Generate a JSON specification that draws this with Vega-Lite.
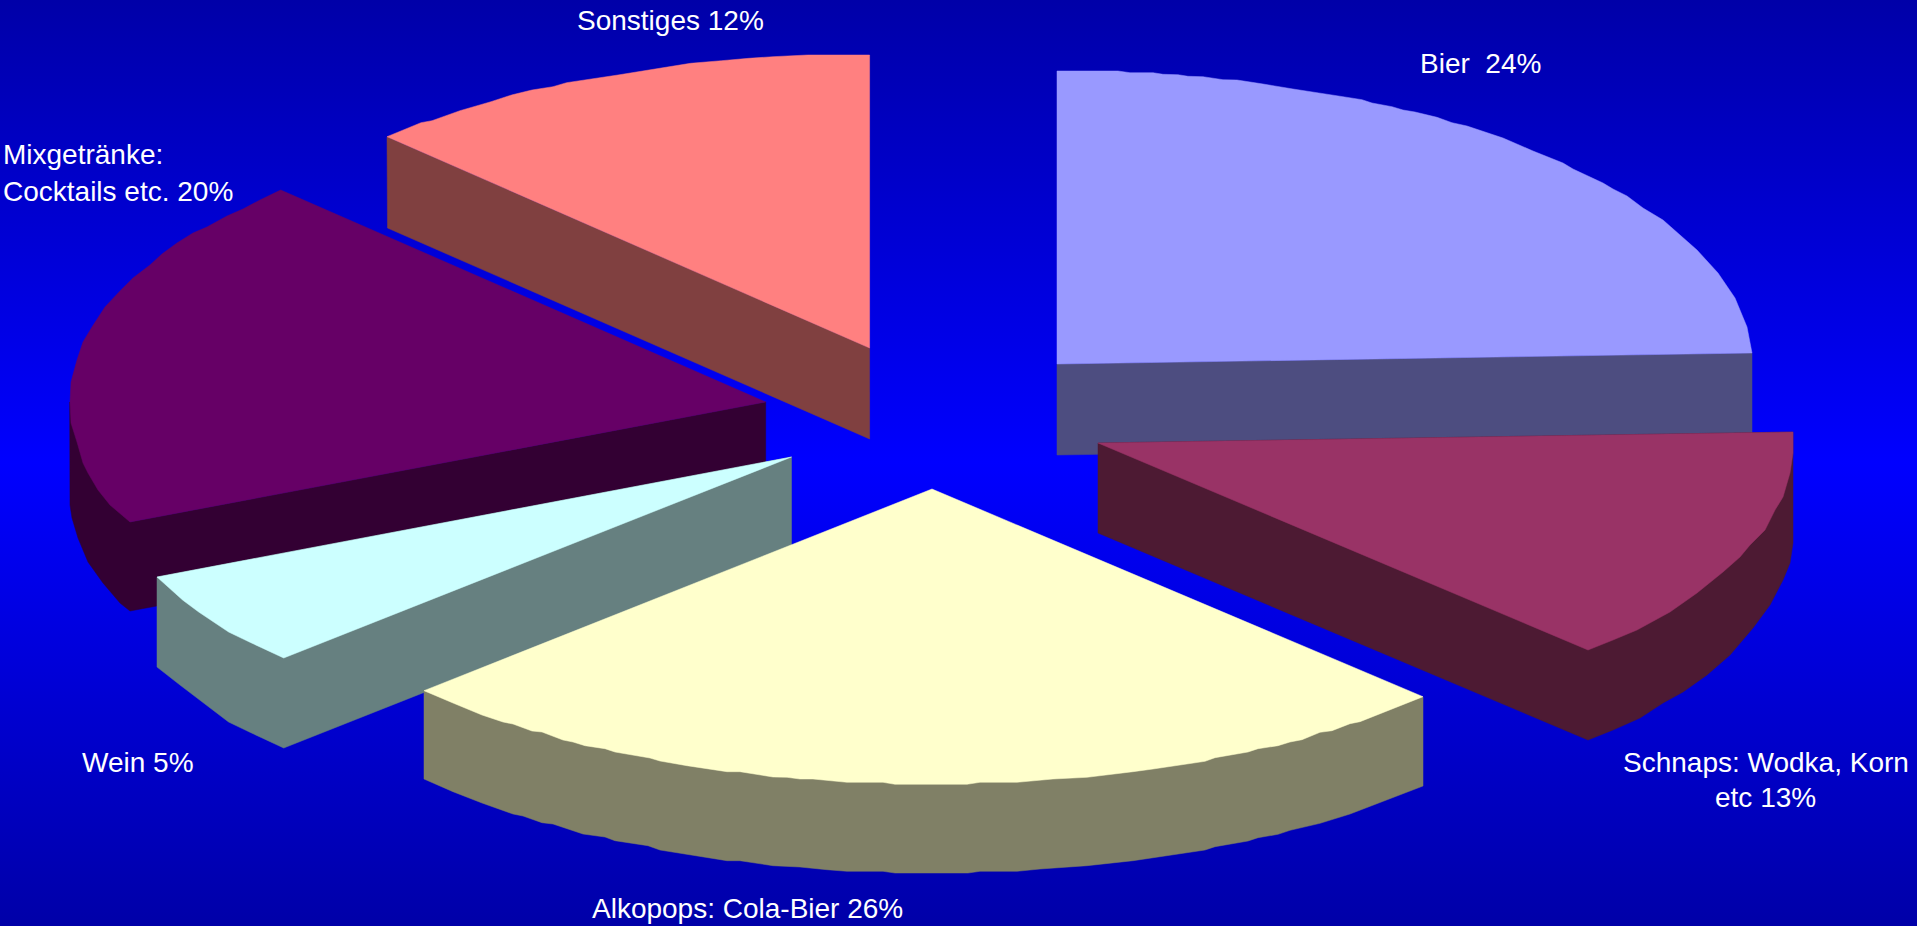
{"$schema":"https://vega.github.io/schema/vega-lite/v6.json","width":1917,"height":926,"autosize":{"type":"fit","contains":"padding"},"padding":0,"background":"#0000ff","view":{"stroke":null},
"datasets":{"frame":[{"x0":0,"x1":1917,"y0":0,"y1":926}],
"labels":[{"t":"Sonstiges 12%","x":577,"y":30},{"t":"Bier \u00a024%","x":1420,"y":73},{"t":"Schnaps: Wodka, Korn","x":1623,"y":772},{"t":"etc 13%","x":1715,"y":807},{"t":"Alkopops: Cola-Bier 26%","x":592,"y":918},{"t":"Wein 5%","x":82,"y":772},{"t":"Mixgetränke:","x":3,"y":164},{"t":"Cocktails etc. 20%","x":3,"y":201}],
"outline":[
{"p":"a Bier side","i":1,"x":1057,"y":364},{"p":"a Bier side","i":2,"x":1752,"y":353},{"p":"a Bier side","i":3,"x":1752,"y":444},{"p":"a Bier side","i":4,"x":1057,"y":455},
{"p":"b Bier top","i":1,"x":1057,"y":71},{"p":"b Bier top","i":2,"x":1118,"y":71},{"p":"b Bier top","i":3,"x":1130,"y":72.7},{"p":"b Bier top","i":4,"x":1153,"y":72.7},{"p":"b Bier top","i":5,"x":1163,"y":74.3},{"p":"b Bier top","i":6,"x":1178,"y":74.7},{"p":"b Bier top","i":7,"x":1188,"y":76.3},{"p":"b Bier top","i":8,"x":1203,"y":76.7},{"p":"b Bier top","i":9,"x":1223,"y":79.7},{"p":"b Bier top","i":10,"x":1237,"y":80},{"p":"b Bier top","i":11,"x":1263,"y":84},{"p":"b Bier top","i":12,"x":1293,"y":89},{"p":"b Bier top","i":13,"x":1317,"y":92.7},{"p":"b Bier top","i":14,"x":1343,"y":96.7},{"p":"b Bier top","i":15,"x":1362,"y":99.7},{"p":"b Bier top","i":16,"x":1372,"y":103},{"p":"b Bier top","i":17,"x":1392,"y":106.7},{"p":"b Bier top","i":18,"x":1403,"y":110},{"p":"b Bier top","i":19,"x":1415,"y":112},{"p":"b Bier top","i":20,"x":1437,"y":117.3},{"p":"b Bier top","i":21,"x":1452,"y":122.7},{"p":"b Bier top","i":22,"x":1467,"y":126},{"p":"b Bier top","i":23,"x":1503,"y":138},{"p":"b Bier top","i":24,"x":1533,"y":151},{"p":"b Bier top","i":25,"x":1563,"y":163},{"p":"b Bier top","i":26,"x":1573,"y":169},{"p":"b Bier top","i":27,"x":1603,"y":183},{"p":"b Bier top","i":28,"x":1613,"y":189},{"p":"b Bier top","i":29,"x":1627,"y":196},{"p":"b Bier top","i":30,"x":1643,"y":208},{"p":"b Bier top","i":31,"x":1663,"y":220},{"p":"b Bier top","i":32,"x":1680,"y":235},{"p":"b Bier top","i":33,"x":1697,"y":250},{"p":"b Bier top","i":34,"x":1718,"y":273},{"p":"b Bier top","i":35,"x":1735,"y":298},{"p":"b Bier top","i":36,"x":1747,"y":327},{"p":"b Bier top","i":37,"x":1752,"y":353},{"p":"b Bier top","i":38,"x":1057,"y":364},
{"p":"c Sonstiges side","i":1,"x":387,"y":137},{"p":"c Sonstiges side","i":2,"x":387.5,"y":228},{"p":"c Sonstiges side","i":3,"x":869.6,"y":439},{"p":"c Sonstiges side","i":4,"x":869.6,"y":348},
{"p":"d Sonstiges top","i":1,"x":387,"y":136.7},{"p":"d Sonstiges top","i":2,"x":421,"y":122.7},{"p":"d Sonstiges top","i":3,"x":432,"y":120.7},{"p":"d Sonstiges top","i":4,"x":460,"y":110.7},{"p":"d Sonstiges top","i":5,"x":491,"y":101.7},{"p":"d Sonstiges top","i":6,"x":511.5,"y":95},{"p":"d Sonstiges top","i":7,"x":532,"y":90},{"p":"d Sonstiges top","i":8,"x":553,"y":86.7},{"p":"d Sonstiges top","i":9,"x":566.6,"y":82.7},{"p":"d Sonstiges top","i":10,"x":618,"y":75},{"p":"d Sonstiges top","i":11,"x":690.6,"y":63.3},{"p":"d Sonstiges top","i":12,"x":721.6,"y":60.7},{"p":"d Sonstiges top","i":13,"x":749,"y":58.3},{"p":"d Sonstiges top","i":14,"x":773,"y":56.7},{"p":"d Sonstiges top","i":15,"x":807.7,"y":55},{"p":"d Sonstiges top","i":16,"x":869.6,"y":55},{"p":"d Sonstiges top","i":17,"x":869.6,"y":348},
{"p":"e Mix side","i":1,"x":765.7,"y":402},{"p":"e Mix side","i":2,"x":765.7,"y":492},{"p":"e Mix side","i":3,"x":130,"y":611},{"p":"e Mix side","i":4,"x":120,"y":603},{"p":"e Mix side","i":5,"x":103,"y":583},{"p":"e Mix side","i":6,"x":88,"y":562},{"p":"e Mix side","i":7,"x":78,"y":538},{"p":"e Mix side","i":8,"x":72,"y":518},{"p":"e Mix side","i":9,"x":70,"y":505},{"p":"e Mix side","i":10,"x":69.7,"y":402},{"p":"e Mix side","i":11,"x":130,"y":522},
{"p":"f Mix top","i":1,"x":280.7,"y":190},{"p":"f Mix top","i":2,"x":260,"y":200},{"p":"f Mix top","i":3,"x":243,"y":209},{"p":"f Mix top","i":4,"x":227,"y":216},{"p":"f Mix top","i":5,"x":207,"y":227},{"p":"f Mix top","i":6,"x":193,"y":233},{"p":"f Mix top","i":7,"x":177,"y":243},{"p":"f Mix top","i":8,"x":162,"y":254},{"p":"f Mix top","i":9,"x":150,"y":265},{"p":"f Mix top","i":10,"x":133,"y":278},{"p":"f Mix top","i":11,"x":120,"y":291},{"p":"f Mix top","i":12,"x":105,"y":307},{"p":"f Mix top","i":13,"x":92,"y":327},{"p":"f Mix top","i":14,"x":83,"y":342},{"p":"f Mix top","i":15,"x":77,"y":360},{"p":"f Mix top","i":16,"x":71,"y":382},{"p":"f Mix top","i":17,"x":70,"y":402},{"p":"f Mix top","i":18,"x":71,"y":423},{"p":"f Mix top","i":19,"x":77,"y":442},{"p":"f Mix top","i":20,"x":83,"y":463},{"p":"f Mix top","i":21,"x":88,"y":473},{"p":"f Mix top","i":22,"x":98,"y":490},{"p":"f Mix top","i":23,"x":110,"y":505},{"p":"f Mix top","i":24,"x":130,"y":522},{"p":"f Mix top","i":25,"x":765.7,"y":402},
{"p":"g Schnaps side","i":1,"x":1098,"y":443},{"p":"g Schnaps side","i":2,"x":1098,"y":533},{"p":"g Schnaps side","i":3,"x":1588,"y":740},{"p":"g Schnaps side","i":4,"x":1613,"y":730},{"p":"g Schnaps side","i":5,"x":1640,"y":718},{"p":"g Schnaps side","i":6,"x":1663,"y":703},{"p":"g Schnaps side","i":7,"x":1683,"y":692},{"p":"g Schnaps side","i":8,"x":1707,"y":675},{"p":"g Schnaps side","i":9,"x":1730,"y":655},{"p":"g Schnaps side","i":10,"x":1753,"y":628},{"p":"g Schnaps side","i":11,"x":1770,"y":605},{"p":"g Schnaps side","i":12,"x":1783,"y":580},{"p":"g Schnaps side","i":13,"x":1790,"y":563},{"p":"g Schnaps side","i":14,"x":1793,"y":543},{"p":"g Schnaps side","i":15,"x":1793,"y":432},
{"p":"h Schnaps top","i":1,"x":1098,"y":443},{"p":"h Schnaps top","i":2,"x":1793,"y":432},{"p":"h Schnaps top","i":3,"x":1793,"y":453},{"p":"h Schnaps top","i":4,"x":1790,"y":473},{"p":"h Schnaps top","i":5,"x":1783,"y":497},{"p":"h Schnaps top","i":6,"x":1775,"y":510},{"p":"h Schnaps top","i":7,"x":1765,"y":530},{"p":"h Schnaps top","i":8,"x":1750,"y":545},{"p":"h Schnaps top","i":9,"x":1740,"y":557},{"p":"h Schnaps top","i":10,"x":1723,"y":572},{"p":"h Schnaps top","i":11,"x":1697,"y":593},{"p":"h Schnaps top","i":12,"x":1670,"y":612},{"p":"h Schnaps top","i":13,"x":1637,"y":630},{"p":"h Schnaps top","i":14,"x":1613,"y":640},{"p":"h Schnaps top","i":15,"x":1588,"y":650},
{"p":"i Wein side","i":1,"x":157,"y":577},{"p":"i Wein side","i":2,"x":157,"y":667},{"p":"i Wein side","i":3,"x":180,"y":685},{"p":"i Wein side","i":4,"x":228.6,"y":722},{"p":"i Wein side","i":5,"x":251.5,"y":733},{"p":"i Wein side","i":6,"x":283.7,"y":748},{"p":"i Wein side","i":7,"x":791.5,"y":547},{"p":"i Wein side","i":8,"x":791.5,"y":457},
{"p":"j Wein top","i":1,"x":791.5,"y":457},{"p":"j Wein top","i":2,"x":157,"y":577},{"p":"j Wein top","i":3,"x":182.6,"y":600},{"p":"j Wein top","i":4,"x":198.7,"y":612},{"p":"j Wein top","i":5,"x":228.6,"y":632},{"p":"j Wein top","i":6,"x":251.5,"y":643},{"p":"j Wein top","i":7,"x":283.7,"y":658},
{"p":"k Alkopops side","i":1,"x":424,"y":690},{"p":"k Alkopops side","i":2,"x":424,"y":779},{"p":"k Alkopops side","i":3,"x":453,"y":791.7},{"p":"k Alkopops side","i":4,"x":482,"y":803},{"p":"k Alkopops side","i":5,"x":513,"y":814},{"p":"k Alkopops side","i":6,"x":523,"y":816},{"p":"k Alkopops side","i":7,"x":542,"y":822.7},{"p":"k Alkopops side","i":8,"x":553,"y":824},{"p":"k Alkopops side","i":9,"x":583,"y":834},{"p":"k Alkopops side","i":10,"x":605,"y":837},{"p":"k Alkopops side","i":11,"x":615,"y":840.7},{"p":"k Alkopops side","i":12,"x":648,"y":845.7},{"p":"k Alkopops side","i":13,"x":660,"y":850},{"p":"k Alkopops side","i":14,"x":727,"y":860.7},{"p":"k Alkopops side","i":15,"x":740,"y":860.7},{"p":"k Alkopops side","i":16,"x":773,"y":865.7},{"p":"k Alkopops side","i":17,"x":800,"y":867},{"p":"k Alkopops side","i":18,"x":827,"y":869.7},{"p":"k Alkopops side","i":19,"x":847,"y":871.3},{"p":"k Alkopops side","i":20,"x":883,"y":871.3},{"p":"k Alkopops side","i":21,"x":895,"y":873},{"p":"k Alkopops side","i":22,"x":968,"y":873},{"p":"k Alkopops side","i":23,"x":980,"y":871.3},{"p":"k Alkopops side","i":24,"x":1017,"y":871.3},{"p":"k Alkopops side","i":25,"x":1040,"y":869},{"p":"k Alkopops side","i":26,"x":1087,"y":865.7},{"p":"k Alkopops side","i":27,"x":1133,"y":860.7},{"p":"k Alkopops side","i":28,"x":1205,"y":850},{"p":"k Alkopops side","i":29,"x":1215,"y":846.7},{"p":"k Alkopops side","i":30,"x":1248,"y":841},{"p":"k Alkopops side","i":31,"x":1258,"y":837.7},{"p":"k Alkopops side","i":32,"x":1278,"y":834.3},{"p":"k Alkopops side","i":33,"x":1290,"y":830.3},{"p":"k Alkopops side","i":34,"x":1320,"y":823.3},{"p":"k Alkopops side","i":35,"x":1350,"y":814},{"p":"k Alkopops side","i":36,"x":1423,"y":786},{"p":"k Alkopops side","i":37,"x":1423,"y":697},
{"p":"l Alkopops top","i":1,"x":932,"y":489},{"p":"l Alkopops top","i":2,"x":1423,"y":696.7},{"p":"l Alkopops top","i":3,"x":1360,"y":721.7},{"p":"l Alkopops top","i":4,"x":1350,"y":723.7},{"p":"l Alkopops top","i":5,"x":1332,"y":730.7},{"p":"l Alkopops top","i":6,"x":1320,"y":732.3},{"p":"l Alkopops top","i":7,"x":1302,"y":739.7},{"p":"l Alkopops top","i":8,"x":1290,"y":742},{"p":"l Alkopops top","i":9,"x":1278,"y":745.7},{"p":"l Alkopops top","i":10,"x":1258,"y":748.7},{"p":"l Alkopops top","i":11,"x":1248,"y":752},{"p":"l Alkopops top","i":12,"x":1215,"y":757.7},{"p":"l Alkopops top","i":13,"x":1205,"y":761.3},{"p":"l Alkopops top","i":14,"x":1153,"y":769},{"p":"l Alkopops top","i":15,"x":1133,"y":771.7},{"p":"l Alkopops top","i":16,"x":1087,"y":777.3},{"p":"l Alkopops top","i":17,"x":1053,"y":779},{"p":"l Alkopops top","i":18,"x":1017,"y":782.3},{"p":"l Alkopops top","i":19,"x":980,"y":782.3},{"p":"l Alkopops top","i":20,"x":967,"y":784.3},{"p":"l Alkopops top","i":21,"x":895,"y":784.3},{"p":"l Alkopops top","i":22,"x":883,"y":782.3},{"p":"l Alkopops top","i":23,"x":847,"y":782.3},{"p":"l Alkopops top","i":24,"x":813,"y":779},{"p":"l Alkopops top","i":25,"x":800,"y":779},{"p":"l Alkopops top","i":26,"x":787,"y":777.3},{"p":"l Alkopops top","i":27,"x":773,"y":777},{"p":"l Alkopops top","i":28,"x":740,"y":771.7},{"p":"l Alkopops top","i":29,"x":727,"y":771.7},{"p":"l Alkopops top","i":30,"x":687,"y":765.7},{"p":"l Alkopops top","i":31,"x":660,"y":761},{"p":"l Alkopops top","i":32,"x":650,"y":758},{"p":"l Alkopops top","i":33,"x":615,"y":752},{"p":"l Alkopops top","i":34,"x":605,"y":748.7},{"p":"l Alkopops top","i":35,"x":585,"y":745.7},{"p":"l Alkopops top","i":36,"x":573,"y":742},{"p":"l Alkopops top","i":37,"x":563,"y":740},{"p":"l Alkopops top","i":38,"x":542,"y":732},{"p":"l Alkopops top","i":39,"x":532,"y":731},{"p":"l Alkopops top","i":40,"x":513,"y":724},{"p":"l Alkopops top","i":41,"x":503,"y":722},{"p":"l Alkopops top","i":42,"x":482,"y":715},{"p":"l Alkopops top","i":43,"x":453,"y":703},{"p":"l Alkopops top","i":44,"x":424,"y":690.7}
]},
"layer":[
{"data":{"name":"frame"},"mark":{"type":"rect","fill":{"gradient":"linear","x1":0,"y1":0,"x2":0,"y2":1,"stops":[{"offset":0,"color":"#0000a8"},{"offset":0.5,"color":"#0000ff"},{"offset":1,"color":"#0000a8"}]}},
"encoding":{"x":{"field":"x0","type":"quantitative","scale":{"domain":[0,1917],"nice":false,"zero":false},"axis":null},"x2":{"field":"x1"},"y":{"field":"y0","type":"quantitative","scale":{"domain":[926,0],"nice":false,"zero":false},"axis":null},"y2":{"field":"y1"}}},
{"data":{"name":"outline"},"mark":{"type":"line","filled":true,"interpolate":"linear-closed","strokeWidth":0.5},
"encoding":{"x":{"field":"x","type":"quantitative","scale":{"domain":[0,1917],"nice":false,"zero":false},"axis":null},"y":{"field":"y","type":"quantitative","scale":{"domain":[926,0],"nice":false,"zero":false},"axis":null},"order":{"field":"i","type":"quantitative"},
"fill":{"field":"p","type":"nominal","legend":null,"scale":{"domain":["a Bier side","b Bier top","c Sonstiges side","d Sonstiges top","e Mix side","f Mix top","g Schnaps side","h Schnaps top","i Wein side","j Wein top","k Alkopops side","l Alkopops top"],"range":["#4d4d80","#9999ff","#804040","#ff8080","#330033","#660066","#4d1a33","#993366","#668080","#ccffff","#808066","#ffffcc"]}},
"stroke":{"field":"p","type":"nominal","legend":null,"scale":{"domain":["a Bier side","b Bier top","c Sonstiges side","d Sonstiges top","e Mix side","f Mix top","g Schnaps side","h Schnaps top","i Wein side","j Wein top","k Alkopops side","l Alkopops top"],"range":["#4d4d80","#9999ff","#804040","#ff8080","#330033","#660066","#4d1a33","#993366","#668080","#ccffff","#808066","#ffffcc"]}}}},
{"data":{"name":"labels"},"mark":{"type":"text","align":"left","baseline":"alphabetic","font":"Liberation Sans","fontSize":28,"fill":"#ffffff"},
"encoding":{"x":{"field":"x","type":"quantitative","scale":{"domain":[0,1917],"nice":false,"zero":false},"axis":null},"y":{"field":"y","type":"quantitative","scale":{"domain":[926,0],"nice":false,"zero":false},"axis":null},"text":{"field":"t","type":"nominal"}}}
]}
